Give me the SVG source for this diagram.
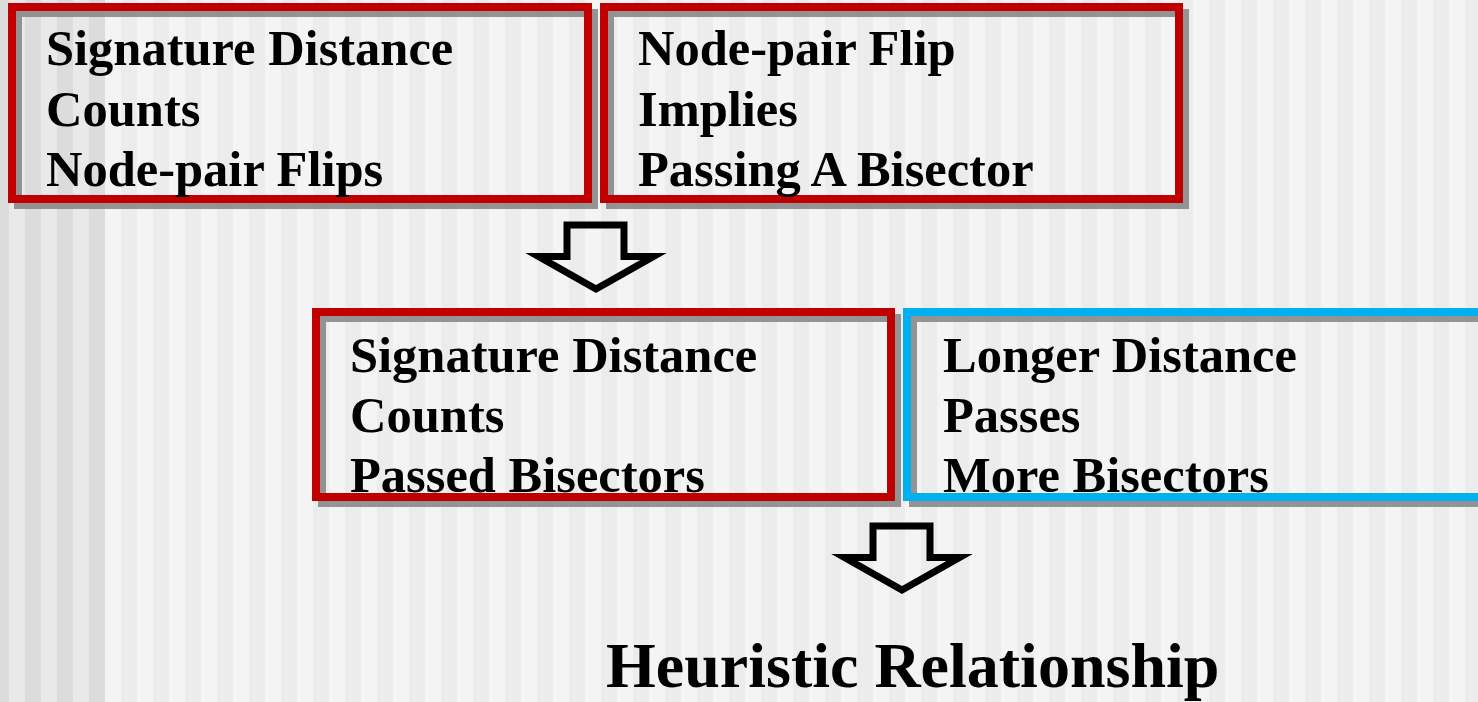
<svg xmlns="http://www.w3.org/2000/svg" width="1478" height="702" viewBox="0 0 1478 702">
<style>
.t{font-family:"Liberation Serif","Times New Roman",serif;font-weight:bold;font-size:50.5px;fill:#000}
.big{font-size:64px}
.red{fill:none;stroke:#c00000;stroke-width:8}
.blue{fill:none;stroke:#00b0f0;stroke-width:8}
.sh{fill:none;stroke:#8e8e8e;stroke-width:8;opacity:0.95}
.arr{fill:none;stroke:#000;stroke-width:7;stroke-linejoin:miter;stroke-miterlimit:10}
</style>
<defs>
<pattern id="pL" patternUnits="userSpaceOnUse" x="9" y="0" width="32" height="10">
<rect x="0" y="0" width="16" height="10" fill="#e9e9e9"/>
<rect x="16" y="0" width="16" height="10" fill="#dcdcdc"/>
</pattern>
<pattern id="pR" patternUnits="userSpaceOnUse" x="105" y="0" width="32" height="10">
<rect x="0" y="0" width="16" height="10" fill="#f4f4f4"/>
<rect x="16" y="0" width="16" height="10" fill="#ececec"/>
</pattern>
</defs>
<g id="background">
<rect x="0" y="0" width="105" height="702" fill="url(#pL)"/>
<rect x="105" y="0" width="1373" height="702" fill="url(#pR)"/>
</g>
<g id="node1">
<rect class="sh" x="18" y="13" width="576" height="192"/>
<rect class="red" x="12" y="7" width="576" height="192"/>
<text class="t" x="46" y="65">Signature Distance</text>
<text class="t" x="46" y="126">Counts</text>
<text class="t" x="46" y="186">Node-pair Flips</text>
</g>
<g id="node2">
<rect class="sh" x="610" y="13" width="575" height="192"/>
<rect class="red" x="604" y="7" width="575" height="192"/>
<text class="t" x="638" y="65">Node-pair Flip</text>
<text class="t" x="638" y="126">Implies</text>
<text class="t" x="638" y="186">Passing A Bisector</text>
</g>
<g id="node3">
<rect class="sh" x="322" y="318" width="575" height="185"/>
<rect class="red" x="316" y="312" width="575" height="185"/>
<text class="t" x="350" y="372">Signature Distance</text>
<text class="t" x="350" y="432">Counts</text>
<text class="t" x="350" y="492">Passed Bisectors</text>
</g>
<g id="node4">
<rect class="sh" x="913" y="318" width="620" height="185"/>
<rect class="blue" x="907" y="312" width="620" height="185"/>
<text class="t" x="943" y="372">Longer Distance</text>
<text class="t" x="943" y="432">Passes</text>
<text class="t" x="943" y="492">More Bisectors</text>
</g>
<g id="node5">
<text class="t big" x="606" y="687">Heuristic Relationship</text>
</g>
<g id="connectors">
<polygon class="arr" points="567,225 624,225 624,256.5 653.5,256.5 596,289 538.5,256.5 567,256.5"/>
<polygon class="arr" points="873,526 930,526 930,557.5 959.5,557.5 902,590 844.5,557.5 873,557.5"/>
</g>
</svg>
